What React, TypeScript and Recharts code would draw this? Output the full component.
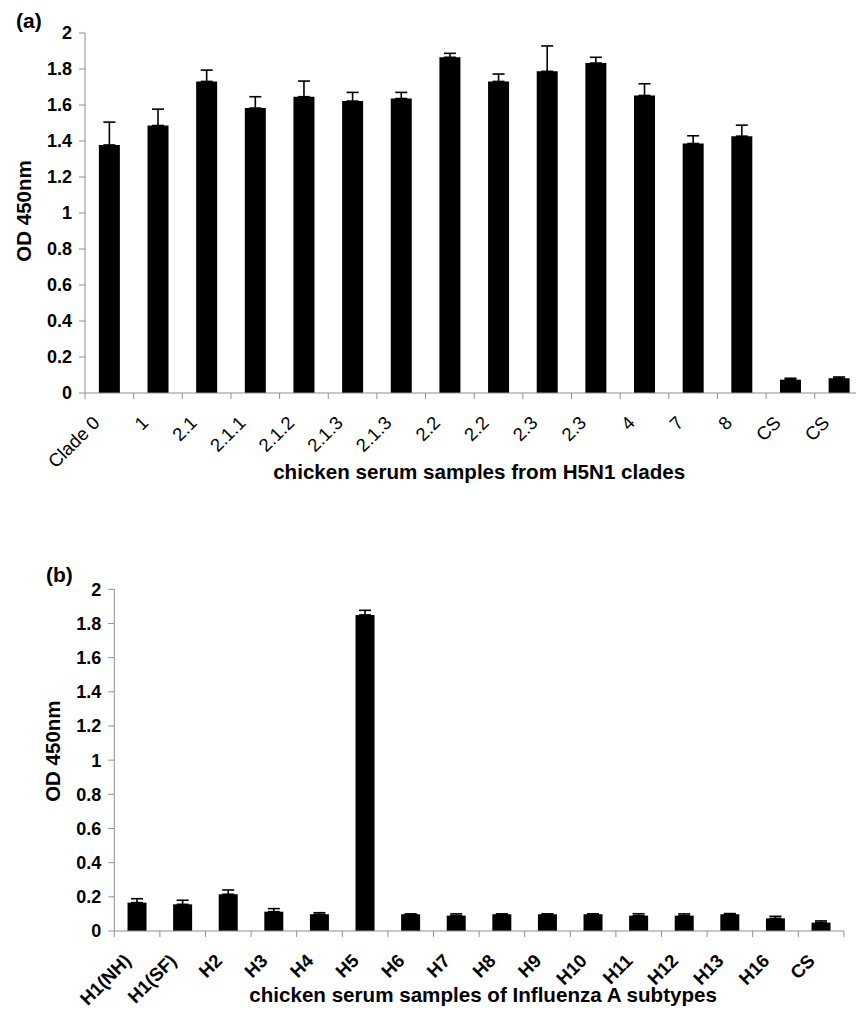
import React from 'react';
import { BarChart, Bar, XAxis, YAxis, ErrorBar, Label } from 'recharts';

// panel (a): H5N1 clades
const cladeLabels = ['Clade 0', '1', '2.1', '2.1.1', '2.1.2', '2.1.3', '2.1.3', '2.2', '2.2', '2.3', '2.3', '4', '7', '8', 'CS', 'CS'];
const cladeOD = [1.378, 1.486, 1.731, 1.583, 1.646, 1.622, 1.636, 1.865, 1.731, 1.787, 1.833, 1.653, 1.386, 1.427, 0.074, 0.082];
const cladeSD = [0.127, 0.091, 0.063, 0.063, 0.087, 0.048, 0.034, 0.022, 0.041, 0.141, 0.032, 0.065, 0.043, 0.061, 0.008, 0.007];

// panel (b): influenza A subtypes
const subtypeLabels = ['H1(NH)', 'H1(SF)', 'H2', 'H3', 'H4', 'H5', 'H6', 'H7', 'H8', 'H9', 'H10', 'H11', 'H12', 'H13', 'H16', 'CS'];
const subtypeOD = [0.166, 0.156, 0.215, 0.113, 0.098, 1.85, 0.098, 0.09, 0.098, 0.098, 0.098, 0.09, 0.09, 0.098, 0.074, 0.049];
const subtypeSD = [0.023, 0.024, 0.025, 0.018, 0.009, 0.027, 0.002, 0.01, 0.002, 0.002, 0.002, 0.011, 0.01, 0.004, 0.012, 0.01];

const odTicks = [0, 0.2, 0.4, 0.6, 0.8, 1, 1.2, 1.4, 1.6, 1.8, 2];

const FONT = '"Liberation Sans", Arial, Helvetica, sans-serif';
const AXIS_GREY = '#8f8f8f';

const toRows = (labels: string[], od: number[], sd: number[]) =>
  labels.map((name, i) => ({ idx: i, name, od: od[i], sd: [0, sd[i]] }));

const cladeData = toRows(cladeLabels, cladeOD, cladeSD);
const subtypeData = toRows(subtypeLabels, subtypeOD, subtypeSD);

// category tick: labels rotated 45deg, tick marks between categories (Excel style)
const CategoryTick = (props: any) => {
  const { x, y, payload, index, visibleTicksCount, labels, bold, shift } = props;
  const half = payload?.offset ?? 0;
  const tx = x - shift;
  const ty = y + 31;
  return (
    <g>
      <line x1={x - half} y1={y} x2={x - half} y2={y + 6} stroke={AXIS_GREY} />
      {index === visibleTicksCount - 1 && (
        <line x1={x + half} y1={y} x2={x + half} y2={y + 6} stroke={AXIS_GREY} />
      )}
      <text
        x={tx}
        y={ty}
        transform={`rotate(-45 ${tx} ${ty})`}
        textAnchor="end"
        fontSize={18.5}
        fontWeight={bold ? 'bold' : 'normal'}
        fontFamily={FONT}
        fill="#000"
      >
        {labels[payload.value]}
      </text>
    </g>
  );
};

type PanelProps = {
  tag: string;
  tagLeft: number;
  tagTop: number;
  data: any[];
  labels: string[];
  top: number;
  width: number;
  height: number;
  marginTop: number;
  marginRight: number;
  yAxisWidth: number;
  gap: string;
  tickShift: number;
  boldTicks: boolean;
  title: string;
  titleDx: number;
  titleDy: number;
  yTitleX: number;
  yTitleDy: number;
};

const Panel = (p: PanelProps) => (
  <>
    <div
      style={{
        position: 'absolute',
        left: p.tagLeft,
        top: p.tagTop,
        fontSize: 21,
        lineHeight: 1,
        fontWeight: 'bold',
        fontFamily: FONT,
      }}
    >
      {p.tag}
    </div>
    <div style={{ position: 'absolute', left: 0, top: p.top }}>
      <BarChart
        width={p.width}
        height={p.height}
        data={p.data}
        margin={{ top: p.marginTop, right: p.marginRight, bottom: 0, left: 0 }}
        barCategoryGap={p.gap}
      >
        <XAxis
          dataKey="idx"
          interval={0}
          height={100}
          tickSize={0}
          tickMargin={0}
          tickLine={false}
          axisLine={{ stroke: AXIS_GREY }}
          tick={<CategoryTick labels={p.labels} bold={p.boldTicks} shift={p.tickShift} />}
        >
          <Label
            content={({ viewBox }: any) => (
              <text
                x={viewBox.x + viewBox.width / 2 + p.titleDx}
                y={viewBox.y + p.titleDy}
                textAnchor="middle"
                fontSize={20.6}
                fontWeight="bold"
                fontFamily={FONT}
                fill="#000"
              >
                {p.title}
              </text>
            )}
          />
        </XAxis>
        <YAxis
          width={p.yAxisWidth}
          domain={[0, 2]}
          ticks={odTicks}
          interval={0}
          tickSize={6}
          tickMargin={7}
          axisLine={{ stroke: AXIS_GREY }}
          tickLine={{ stroke: AXIS_GREY }}
          tick={{ fill: '#000', fontSize: 18, fontWeight: 'bold', fontFamily: FONT }}
        >
          <Label
            content={({ viewBox }: any) => {
              const cx = p.yTitleX;
              const cy = viewBox.y + viewBox.height / 2 + p.yTitleDy;
              return (
                <text
                  x={cx}
                  y={cy}
                  transform={`rotate(-90 ${cx} ${cy})`}
                  textAnchor="middle"
                  dominantBaseline="central"
                  fontSize={20.5}
                  fontWeight="bold"
                  fontFamily={FONT}
                  fill="#000"
                >
                  OD 450nm
                </text>
              );
            }}
          />
        </YAxis>
        <Bar dataKey="od" fill="#000" isAnimationActive={false}>
          <ErrorBar dataKey="sd" direction="y" width={6} stroke="#000" strokeWidth={1.6} />
        </Bar>
      </BarChart>
    </div>
  </>
);

export default function App() {
  return (
    <div
      style={{
        position: 'absolute',
        left: 0,
        top: 0,
        width: 856,
        height: 1009,
        overflow: 'hidden',
        background: '#fff',
        fontFamily: FONT,
      }}
    >
      <Panel
        tag="(a)"
        tagLeft={16}
        tagTop={10}
        data={cladeData}
        labels={cladeLabels}
        top={0}
        width={870}
        height={493}
        marginTop={33}
        marginRight={6.6}
        yAxisWidth={85}
        gap="28.5%"
        tickShift={8.5}
        boldTicks={false}
        title="chicken serum samples from H5N1 clades"
        titleDx={5}
        titleDy={86}
        yTitleX={23}
        yTitleDy={-2}
      />
      <Panel
        tag="(b)"
        tagLeft={46}
        tagTop={564}
        data={subtypeData}
        labels={subtypeLabels}
        top={560}
        width={856}
        height={471}
        marginTop={29.3}
        marginRight={12.1}
        yAxisWidth={114.3}
        gap="29%"
        tickShift={5}
        boldTicks={true}
        title="chicken serum samples of Influenza A subtypes"
        titleDx={4}
        titleDy={71}
        yTitleX={53}
        yTitleDy={-9}
      />
    </div>
  );
}
